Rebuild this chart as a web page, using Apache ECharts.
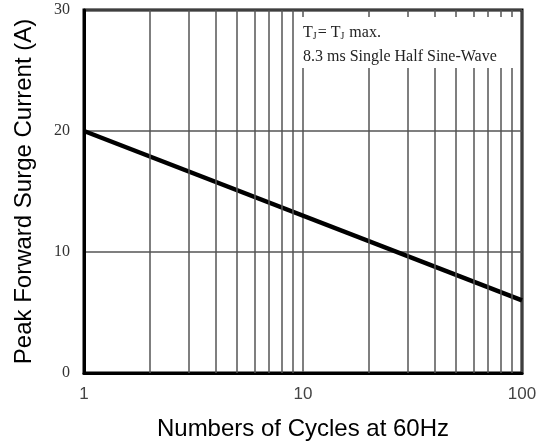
<!DOCTYPE html>
<html>
<head>
<meta charset="utf-8">
<script src="https://cdn.jsdelivr.net/npm/echarts@6/dist/echarts.min.js"></script>
<style>
  html, body { margin: 0; padding: 0; background: #fff; }
  #chart { width: 543px; height: 448px; }
</style>
</head>
<body>
<div id="chart"></div>
<script>
// cycles (log scale) vs peak forward surge current
var cycles = [1, 100];
var surgeCurrent = [20, 6];
// extra vertical grid lines between the decades
var minorGridX = [2, 3, 4, 5, 6, 7, 8, 9, 20, 30, 40, 50, 60, 70, 80, 90];

var chart = echarts.init(document.getElementById('chart'));

var option = {
  animation: false,
  grid: {
    left: 84,
    right: 21,
    top: 10,
    bottom: 75,
    show: true,
    borderColor: '#000',
    borderWidth: 3
  },
  xAxis: {
    type: 'log',
    logBase: 10,
    min: 1,
    max: 100,
    name: 'Numbers of Cycles at 60Hz',
    nameLocation: 'middle',
    nameGap: 44,
    nameTextStyle: { fontFamily: 'Liberation Sans', fontSize: 24, color: '#000' },
    axisLine: { lineStyle: { color: '#000', width: 3 } },
    axisTick: { show: false },
    axisLabel: {
      fontFamily: 'Liberation Sans',
      fontSize: 17,
      color: '#444',
      margin: 13
    },
    splitLine: { show: true, lineStyle: { color: '#555', width: 1.5 } }
  },
  yAxis: {
    type: 'value',
    min: 0,
    max: 30,
    interval: 10,
    name: 'Peak Forward Surge Current (A)',
    nameLocation: 'middle',
    nameGap: 48,
    nameTextStyle: { fontFamily: 'Liberation Sans', fontSize: 24, color: '#000' },
    axisLine: { show: true, lineStyle: { color: '#000', width: 3 } },
    axisTick: { show: false },
    axisLabel: {
      fontFamily: 'Liberation Serif',
      fontSize: 16,
      color: '#333',
      margin: 14
    },
    splitLine: { show: true, lineStyle: { color: '#555', width: 1.5 } }
  },
  series: [
    {
      type: 'line',
      data: cycles.map(function (c, i) { return [c, surgeCurrent[i]]; }),
      symbol: 'none',
      lineStyle: { color: '#000', width: 4.5 },
      z: 3,
      markLine: {
        silent: true,
        symbol: 'none',
        label: { show: false },
        lineStyle: { color: '#555', width: 1.5, type: 'solid' },
        data: minorGridX.map(function (v) { return { xAxis: v }; })
      }
    }
  ],
  graphic: [
    {
      type: 'rect',
      left: 296,
      top: 17,
      shape: { width: 222, height: 51 },
      style: { fill: '#fff' },
      z: 10
    },
    {
      type: 'text',
      left: 303,
      top: 25,
      z: 11,
      style: {
        text: '{a|T}{s|J}{a|= T}{s|J}{a| max.}',
        rich: {
          a: { fontFamily: 'Liberation Serif', fontSize: 16, fill: '#222', lineHeight: 18 },
          s: { fontFamily: 'Liberation Serif', fontSize: 10, fill: '#222', padding: [7, 1, 0, 0] }
        }
      }
    },
    {
      type: 'text',
      left: 303,
      top: 49,
      z: 11,
      style: {
        text: '8.3 ms Single Half Sine-Wave',
        font: '16px "Liberation Serif"',
        fill: '#222'
      }
    }
  ]
};

chart.setOption(option);
</script>
</body>
</html>
